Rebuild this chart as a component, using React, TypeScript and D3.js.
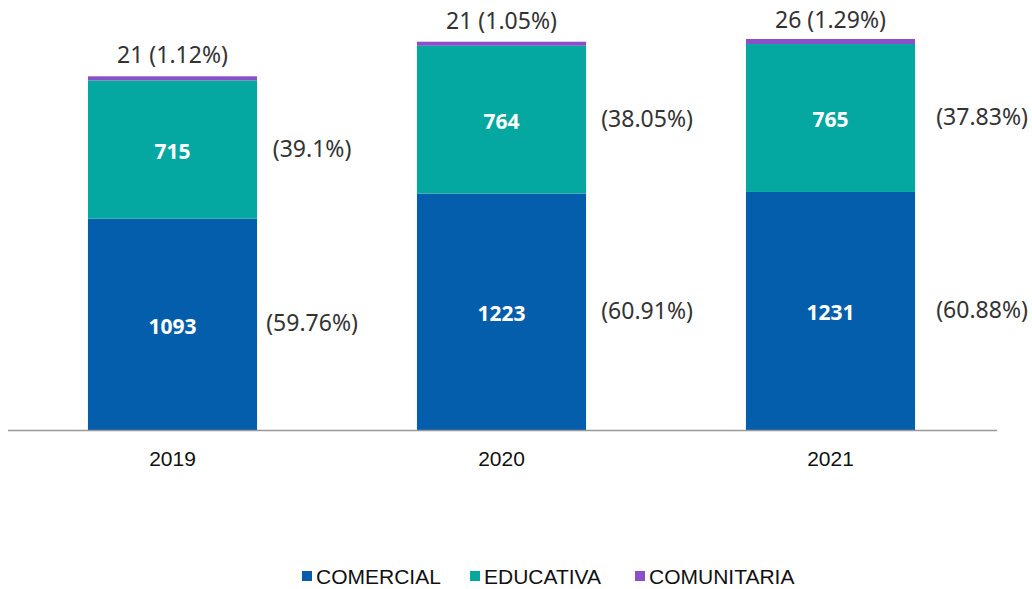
import { useEffect, useRef } from "react";
import * as d3 from "d3";

const years = ["2019", "2020", "2021"];
const comercial = [1093, 1223, 1231];
const educativa = [715, 764, 765];
const comunitaria = [21, 21, 26];
const pctComercial = ["(59.76%)", "(60.91%)", "(60.88%)"];
const pctEducativa = ["(39.1%)", "(38.05%)", "(37.83%)"];
const pctComunitaria = ["(1.12%)", "(1.05%)", "(1.29%)"];
const seriesNames = ["COMERCIAL", "EDUCATIVA", "COMUNITARIA"];
const colors = ["#055EAB", "#05A8A0", "#8A4FC9"];

const width = 1032;
const height = 589;

export default function App() {
  const svgRef = useRef<SVGSVGElement>(null);

  useEffect(() => {
    const svg = d3.select(svgRef.current);
    svg.selectAll("*").remove();

    const rows = years.map((y, i) => ({
      year: y,
      COMERCIAL: comercial[i],
      EDUCATIVA: educativa[i],
      COMUNITARIA: comunitaria[i],
    }));
    const stack = d3.stack<any>().keys(seriesNames)(rows);

    // band layout for categories
    const x = d3.scaleBand().domain(years).range([8, 995]).paddingInner(0.486).paddingOuter(0.243);
    const y = d3.scaleLinear().domain([0, 2022]).range([430, 39]);

    const g = svg.append("g");

    // stacked bars
    stack.forEach((s, si) => {
      g.selectAll(`rect.s${si}`)
        .data(s)
        .join("rect")
        .attr("class", `s${si}`)
        .attr("x", (d: any) => x(d.data.year)!)
        .attr("width", x.bandwidth())
        .attr("y", (d) => y(d[1]))
        .attr("height", (d) => y(d[0]) - y(d[1]))
        .attr("fill", colors[si]);
    });

    // axis line
    g.append("line")
      .attr("x1", 8)
      .attr("x2", 997)
      .attr("y1", y(0) + 0.5)
      .attr("y2", y(0) + 0.5)
      .attr("stroke", "#999")
      .attr("stroke-width", 1.5);

    // year labels
    g.selectAll("text.year")
      .data(years)
      .join("text")
      .attr("class", "year")
      .attr("x", (d) => x(d)! + x.bandwidth() / 2)
      .attr("y", 466)
      .attr("text-anchor", "middle")
      .attr("font-family", "'Liberation Sans', Arial, sans-serif")
      .attr("font-size", 21)
      .attr("fill", "#111")
      .text((d) => d);

    const labelFont = "'Segoe UI', 'Noto Sans', 'Open Sans', sans-serif";

    // values inside bars
    [0, 1].forEach((si) => {
      g.selectAll(`text.v${si}`)
        .data(stack[si])
        .join("text")
        .attr("class", `v${si}`)
        .attr("x", (d: any) => x(d.data.year)! + x.bandwidth() / 2)
        .attr("y", (d) => (y(d[0]) + y(d[1])) / 2 + 2)
        .attr("dy", "0.35em")
        .attr("text-anchor", "middle")
        .attr("font-family", labelFont)
        .attr("font-weight", "bold")
        .attr("font-size", 21)
        .attr("fill", "#fff")
        .text((d) => d[1] - d[0]);
    });

    // percentage labels right of bars
    const pcts = [pctComercial, pctEducativa];
    [0, 1].forEach((si) => {
      g.selectAll(`text.p${si}`)
        .data(stack[si])
        .join("text")
        .attr("class", `p${si}`)
        .attr("x", (d: any, i) => x(d.data.year)! + x.bandwidth() + 55 + i * 6)
        .attr("y", (d) => (y(d[0]) + y(d[1])) / 2 - 1)
        .attr("dy", "0.35em")
        .attr("text-anchor", "middle")
        .attr("font-family", labelFont)
        .attr("font-size", 23)
        .attr("fill", "#333")
        .text((d, i) => pcts[si][i]);
    });

    // top labels (kept inside the picture)
    g.selectAll("text.top")
      .data(stack[2])
      .join("text")
      .attr("class", "top")
      .attr("x", (d: any) => x(d.data.year)! + x.bandwidth() / 2)
      .attr("y", (d) => Math.max(20, y(d[1]) - 21))
      .attr("dy", "0.35em")
      .attr("text-anchor", "middle")
      .attr("font-family", labelFont)
      .attr("font-size", 23)
      .attr("fill", "#333")
      .text((d, i) => `${d[1] - d[0]} ${pctComunitaria[i]}`);

    // legend
    const legendX = [302, 470, 635];
    const legend = svg
      .append("g")
      .selectAll("g")
      .data(seriesNames)
      .join("g")
      .attr("transform", (d, i) => `translate(${legendX[i]},576)`);
    legend
      .append("rect")
      .attr("x", 0)
      .attr("y", -5)
      .attr("width", 10)
      .attr("height", 10)
      .attr("fill", (d, i) => colors[i]);
    legend
      .append("text")
      .attr("x", 14)
      .attr("dy", "0.36em")
      .attr("font-family", "'Liberation Sans', Arial, sans-serif")
      .attr("font-size", 21)
      .attr("fill", "#111")
      .text((d) => d);
  }, []);

  return (
    <svg
      ref={svgRef}
      width={width}
      height={height}
      style={{ position: "absolute", left: 0, top: 0 }}
    />
  );
}
